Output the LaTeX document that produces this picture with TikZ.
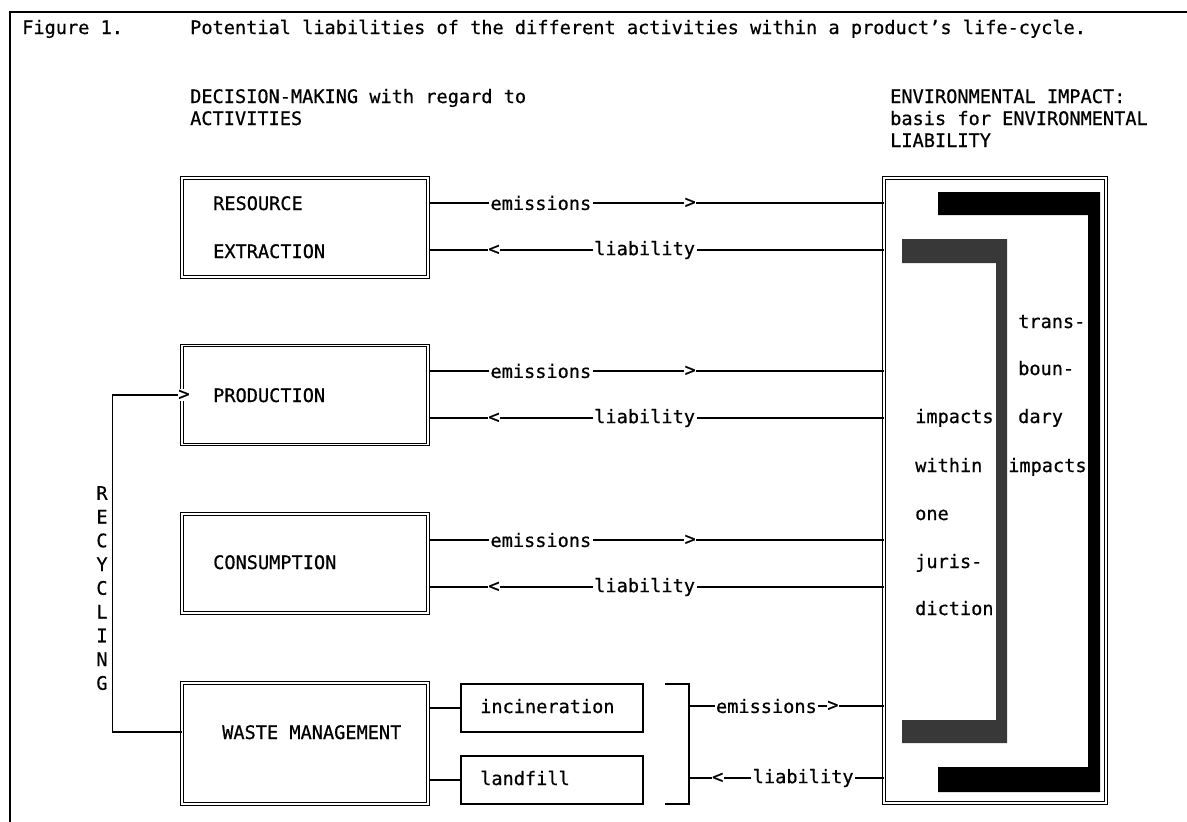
\documentclass[tikz,border=0pt]{standalone}
\usepackage{fontspec}
\setmainfont[FakeBold=0.6,AutoFakeBold=0.6]{DejaVu Sans Mono}
\usepackage{tikz}
\newcommand\typefont{\fontsize{18.6}{23.75}\selectfont\bfseries}
\tikzset{
  actbox/.style={draw,double,double distance=1.6pt,line width=1pt,minimum width=246pt,minimum height=99pt,inner sep=0},
  subbox/.style={draw,line width=1.3pt,minimum width=182pt,minimum height=48pt,inner sep=0},
  txt/.style={font=\typefont,anchor=base west,inner sep=0},
  lbl/.style={font=\typefont,fill=white,inner sep=1.5pt},
  glyph/.style={font=\typefont,fill=white,inner sep=0.5pt},
  ln/.style={line width=1.3pt}
}

\begin{document}
\begin{tikzpicture}[x=1pt,y=-1pt]
\useasboundingbox (0,0) rectangle (1187,822);
\draw[ln] (10,822) -- (10,12) -- (1187,12);
\node[txt] (fig) at (22,34) {Figure 1.};
\node[txt] (title) at (190,34) {Potential liabilities of the different activities within a product’s life-cycle.};
\node[txt] (hl1) at (190,103) {DECISION-MAKING with regard to};
\node[txt] (hl2) at (190,125) {ACTIVITIES};
\node[txt] (hr1) at (890,103) {ENVIRONMENTAL IMPACT:};
\node[txt] (hr2) at (890,125) {basis for ENVIRONMENTAL};
\node[txt] (hr3) at (890,147) {LIABILITY};
\node[actbox] (res) at (305,227.5) {};
\node[actbox] (prod) at (305,395) {};
\node[actbox] (cons) at (305,563.5) {};
\node[actbox,minimum height=121pt] (waste) at (305,743.5) {};
\node[subbox] (inc) at (552,708) {};
\node[subbox] (land) at (552,780) {};
\node[draw,double,double distance=2pt,line width=1pt,minimum width=222pt,minimum height=625pt,inner sep=0] (panel) at (995,490.5) {};
\node[txt] (tres1) at (213,210) {RESOURCE};
\node[txt] (tres2) at (213,258) {EXTRACTION};
\node[txt] (tprod) at (213,402) {PRODUCTION};
\node[txt] (tcons) at (213,569) {CONSUMPTION};
\node[txt] (twaste) at (222,739) {WASTE MANAGEMENT};
\node[txt] (tinc) at (480,713) {incineration};
\node[txt] (tland) at (480,785) {landfill};
% impact brackets
\fill (938,192) -- (1100,192) -- (1100,792) -- (938,792) -- (938,767) -- (1088,767) -- (1088,215) -- (938,215) -- cycle;
\fill[black!78] (902,239) -- (1007,239) -- (1007,743) -- (902,743) -- (902,720) -- (996,720) -- (996,263) -- (902,263) -- cycle;
\node[txt] (tb1) at (1018,328) {trans-};
\node[txt] (tb2) at (1018,375) {boun-};
\node[txt] (tb3) at (1018,423) {dary};
\node[txt] (tb4) at (1008,472) {impacts};
\node[txt] (tj1) at (915,423) {impacts};
\node[txt] (tj2) at (915,472) {within};
\node[txt] (tj3) at (915,520) {one};
\node[txt] (tj4) at (915,568) {juris-};
\node[txt] (tj5) at (915,615) {diction};
% emissions and liability
\draw[ln] (res.east |- 0,203) -- node[lbl,pos=0.247]{emissions} node[glyph,pos=0.575]{>} (panel.west |- 0,203);
\draw[ln] (res.east |- 0,250) -- node[glyph,pos=0.144]{<} node[lbl,pos=0.475]{liability} (panel.west |- 0,250);
\draw[ln] (prod.east |- 0,371) -- node[lbl,pos=0.247]{emissions} node[glyph,pos=0.575]{>} (panel.west |- 0,371);
\draw[ln] (prod.east |- 0,418) -- node[glyph,pos=0.144]{<} node[lbl,pos=0.475]{liability} (panel.west |- 0,418);
\draw[ln] (cons.east |- 0,540) -- node[lbl,pos=0.247]{emissions} node[glyph,pos=0.575]{>} (panel.west |- 0,540);
\draw[ln] (cons.east |- 0,587) -- node[glyph,pos=0.144]{<} node[lbl,pos=0.475]{liability} (panel.west |- 0,587);
\draw[ln] (waste.east |- inc.west) -- (inc.west);
\draw[ln] (waste.east |- land.west) -- (land.west);
\draw[ln] (665,684) -- (689,684) -- (689,804) -- (665,804);
\coordinate (brk) at (689,744);
\draw[ln] (brk |- 0,706) -- node[lbl,pos=0.398]{emissions} node[glyph,pos=0.74]{>} (panel.west |- 0,706);
\draw[ln] (brk |- 0,778) -- node[glyph,pos=0.148]{<} node[lbl,pos=0.587]{liability} (panel.west |- 0,778);
% recycling
\node[glyph] (rin) at (184,395) {>};
\draw[ln] ([yshift=11.5pt]waste.west) -- ++(-69,0) |- (rin);
\node[font=\typefont,align=center,inner sep=0,anchor=north] (recyc) at (102,486) {R\\E\\C\\Y\\C\\L\\I\\N\\G};
\end{tikzpicture}
\end{document}
